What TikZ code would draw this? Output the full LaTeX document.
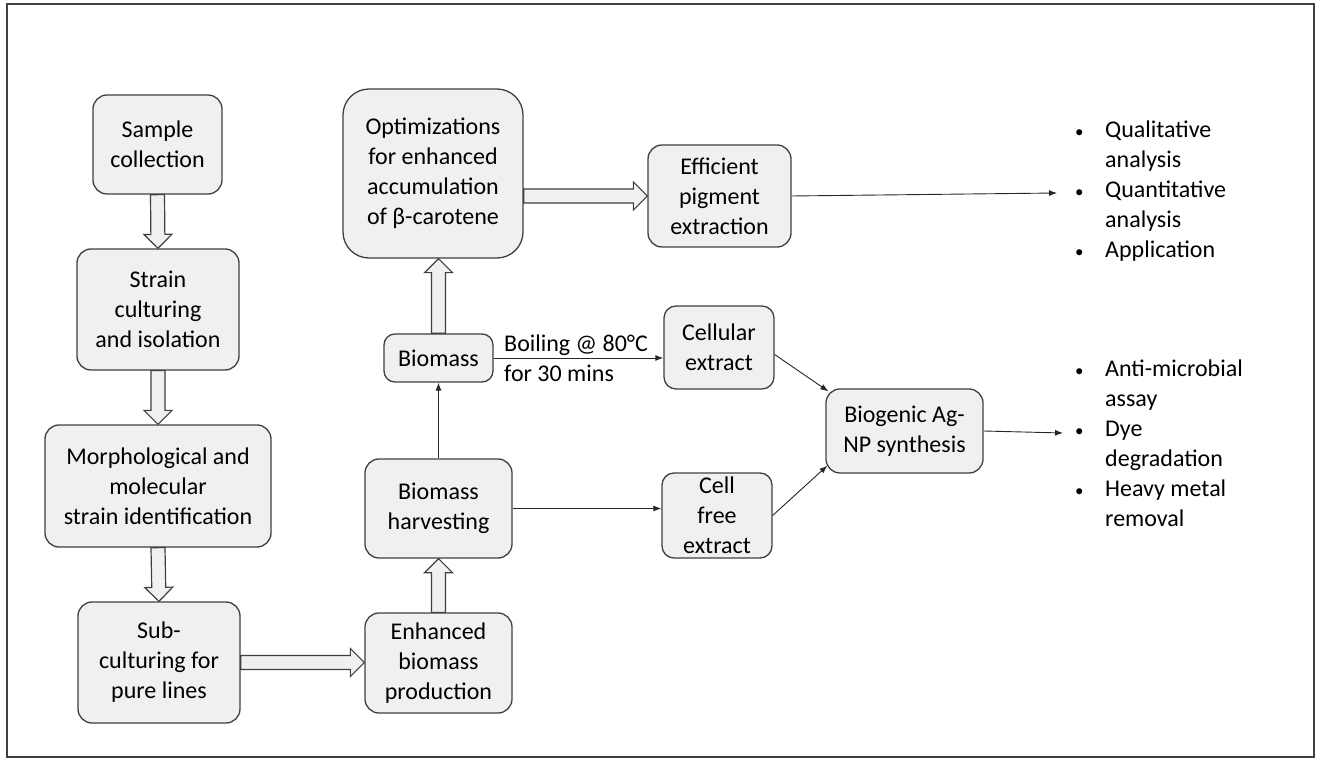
\documentclass[tikz,border=0pt]{standalone}
\usepackage{fontspec}
\setmainfont{Carlito}
\usetikzlibrary{calc,arrows.meta}
\definecolor{boxfill}{HTML}{F0F0F0}
\definecolor{boxline}{HTML}{404040}
\newcommand\mainfs{\fontsize{24}{30}\selectfont}
\newcommand\bul{{\fontsize{17}{30}\selectfont •}}
% hollow block arrow from #1 to #2 (shaft 14pt wide, head 28pt wide, 14pt long)
\newcommand\blockarr[2]{%
  \path (#1) coordinate (ba-s) (#2) coordinate (ba-e);
  \coordinate (ba-h) at ($(ba-e)!14pt!(ba-s)$);
  \draw[blockarrow] ($(ba-s)!7pt!90:(ba-e)$) -- ($(ba-h)!7pt!90:(ba-e)$)
    -- ($(ba-h)!14pt!90:(ba-e)$) -- (ba-e) -- ($(ba-h)!14pt!-90:(ba-e)$)
    -- ($(ba-h)!7pt!-90:(ba-e)$) -- ($(ba-s)!7pt!-90:(ba-e)$) -- cycle;}
\begin{document}
\begin{tikzpicture}[x=1pt,y=-1pt,
  box/.style={draw=boxline, fill=boxfill, line width=1.3pt, rounded corners=14pt,
    align=center, inner sep=0pt, font=\mainfs},
  blockarrow/.style={draw=boxline, fill=boxfill, line width=1.2pt, line join=miter},
  link/.style={draw=black!85, line width=0.9pt, -{Latex[length=8pt,width=6pt]}},
  lbl/.style={inner sep=0pt, font=\mainfs},
  list/.style={inner sep=0pt, font=\mainfs, anchor=base west}]
\useasboundingbox (0,0) rectangle (1318,759);
\draw[line width=2pt, draw=boxline] (7,4) rectangle (1314,757);

% left column
\node[box, minimum width=129, minimum height=99] (sample) at (157.5,144.5) {Sample\\collection};
\node[box, minimum width=162, minimum height=121] (strain) at (158,309.5) {Strain\\culturing\\and isolation};
\node[box, minimum width=226, minimum height=122] (morph) at (158,486) {Morphological and\\molecular\\strain identification};
\node[box, minimum width=162, minimum height=121] (sub) at (159,662.5) {Sub-\\culturing for\\pure lines};

% middle column
\node[box, minimum width=147, minimum height=100] (enh) at (438.5,663) {Enhanced\\biomass\\production};
\node[box, minimum width=147, minimum height=99] (harv) at (438.5,508.5) {Biomass\\harvesting};
\node[box, minimum width=109, minimum height=48, rounded corners=11pt] (bio) at (438.5,358) {Biomass};
\node[box, minimum width=180, minimum height=169, rounded corners=26pt] (opt) at (433,173.5) {Optimizations\\for enhanced\\accumulation\\of β-carotene};

% right part
\node[box, minimum width=143, minimum height=102] (eff) at (719.5,196) {Efficient\\pigment\\extraction};
\node[box, minimum width=110, minimum height=83, rounded corners=12pt] (cell) at (719,347.5) {Cellular\\extract};
\node[box, minimum width=110, minimum height=85, rounded corners=12pt] (cfree) at (717,515.5) {Cell\\free\\extract};
\node[box, minimum width=157, minimum height=84, rounded corners=14pt] (agnp) at (904.5,431) {Biogenic Ag-\\NP synthesis};

% outcome lists
\node[list] (qlist) at (1075,138) {\begin{tabular}[t]{@{}p{30pt}@{}l@{}}
  \bul & Qualitative\\ & analysis\\ \bul & Quantitative\\ & analysis\\ \bul & Application
\end{tabular}};
\node[list] (alist) at (1075,377) {\begin{tabular}[t]{@{}p{30pt}@{}l@{}}
  \bul & Anti-microbial\\ & assay\\ \bul & Dye\\ & degradation\\ \bul & Heavy metal\\ & removal
\end{tabular}};
\coordinate (qin) at (1057,193);
\coordinate (ain) at (1063,433);

% block arrows
\blockarr{sample.south}{strain.north}
\blockarr{strain.south}{morph.north}
\blockarr{morph.south}{sub.north}
\blockarr{sub.east}{sub.east -| enh.west}
\blockarr{enh.north}{harv.south}
\blockarr{bio.north}{bio.north |- opt.south}
\blockarr{opt.east |- eff.west}{eff.west}

% thin connectors
\draw[link] (harv.north) -- (bio.south);
\draw[link] (bio.east) -- (bio.east -| cell.west);
\node[lbl, anchor=base west] (boil1) at (504,352) {Boiling @ 80°C};
\node[lbl, anchor=base west] (boil2) at (504,382) {for 30 mins};
\draw[link] (harv.east) -- (harv.east -| cfree.west);
\draw[link] ($(cell.east)+(0,7)$) -- ($(agnp.north west)+(3,3)$);
\draw[link] (cfree.east) -- ($(agnp.south west)+(2,-8)$);
\draw[link] (eff.east) -- (qin);
\draw[link] (agnp.east) -- (ain);
\end{tikzpicture}
\end{document}
